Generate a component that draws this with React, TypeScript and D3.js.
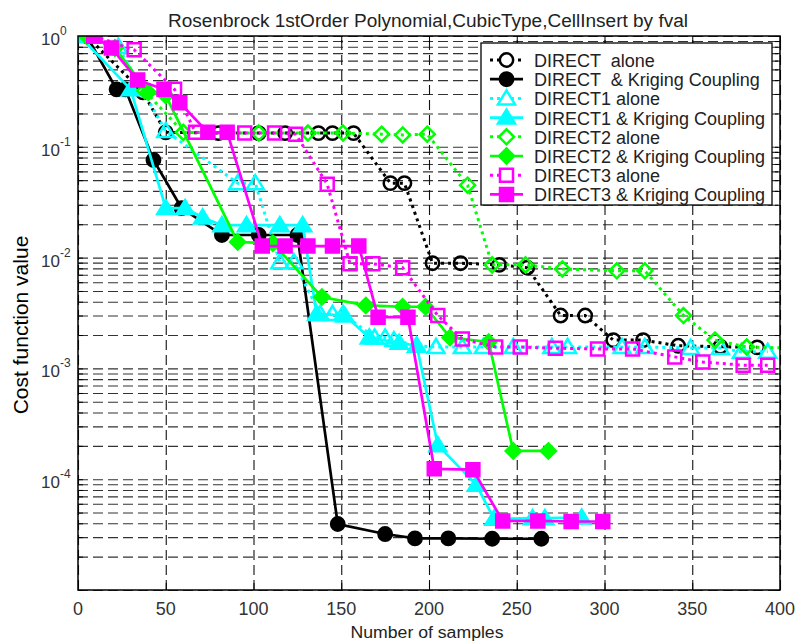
import React from "react";
import * as d3 from "d3";

// axis ticks
const xTicks = [0, 50, 100, 150, 200, 250, 300, 350, 400];
const yDecades = [0, -1, -2, -3, -4];

// DIRECT alone (dotted, open circles)
const directAloneX = [5, 37, 50, 80, 103, 118, 137, 145, 157, 178, 186, 202, 218, 240, 256, 275, 289, 305, 322, 342, 366, 387];
const directAloneY = [1, 0.31, 0.135, 0.133, 0.133, 0.133, 0.133, 0.133, 0.133, 0.047, 0.047, 0.0089, 0.0089, 0.0086, 0.0081, 0.003, 0.003, 0.0018, 0.0018, 0.0016, 0.00157, 0.00155];

// DIRECT & Kriging Coupling
const directKrigX = [5, 22, 27, 43, 59, 82, 103, 125, 148, 175, 192, 211, 236, 264];
const directKrigY = [1, 0.33, 0.33, 0.076, 0.028, 0.016, 0.016, 0.016, 3.94e-5, 3.2e-5, 2.92e-5, 2.92e-5, 2.9e-5, 2.9e-5];

// DIRECT1 alone
const direct1AloneX = [1, 23, 50, 91, 101, 115, 123, 138, 145, 151, 169, 175, 180, 193, 204, 219, 231, 248, 270, 279, 310, 323, 349, 366, 378, 393];
const direct1AloneY = [1, 0.8, 0.139, 0.047, 0.047, 0.0091, 0.0091, 0.0031, 0.0031, 0.0031, 0.0019, 0.0019, 0.0018, 0.0016, 0.00156, 0.00156, 0.00156, 0.00156, 0.00156, 0.00156, 0.00156, 0.00156, 0.00153, 0.00153, 0.00141, 0.00141];

// DIRECT1 & Kriging Coupling
const direct1KrigX = [1, 30, 50, 61, 71, 82, 96, 115, 128, 136, 152, 166, 183, 193, 205, 227, 237, 259, 266, 287];
const direct1KrigY = [1, 0.33, 0.028, 0.028, 0.023, 0.0196, 0.0196, 0.0196, 0.0196, 0.0031, 0.003, 0.0019, 0.0017, 0.0016, 2.03e-4, 8.9e-5, 4.4e-5, 4.45e-5, 4.45e-5, 4.5e-5];

// DIRECT2 alone
const direct2AloneX = [5, 21, 38, 60, 103, 131, 151, 173, 185, 199, 222, 236, 255, 276, 307, 323, 345, 363, 381, 410];
const direct2AloneY = [1, 0.78, 0.32, 0.135, 0.133, 0.133, 0.133, 0.13, 0.128, 0.13, 0.045, 0.0086, 0.0086, 0.0079, 0.0076, 0.0076, 0.003, 0.0018, 0.00156, 0.00152];

// DIRECT2 & Kriging Coupling
const direct2KrigX = [5, 21, 40, 50, 91, 111, 139, 164, 185, 198, 212, 234, 248, 268];
const direct2KrigY = [1, 0.78, 0.31, 0.29, 0.0138, 0.0135, 0.0044, 0.0037, 0.0036, 0.0036, 0.0019, 0.00173, 1.8e-4, 1.8e-4];

// DIRECT3 alone
const direct3AloneX = [9, 32, 55, 67, 95, 112, 124, 142, 155, 168, 185, 205, 219, 238, 252, 272, 296, 316, 340, 356, 379, 393];
const direct3AloneY = [1, 0.75, 0.33, 0.135, 0.133, 0.133, 0.13, 0.046, 0.0088, 0.0088, 0.0081, 0.003, 0.00184, 0.00156, 0.00156, 0.00152, 0.0015, 0.0015, 0.00127, 0.00114, 0.00107, 0.00107];

// DIRECT3 & Kriging Coupling
const direct3KrigX = [9, 19, 34, 49, 58, 74, 85, 105, 118, 131, 145, 160, 171, 188, 203, 225, 242, 262, 281, 299];
const direct3KrigY = [1, 0.78, 0.4, 0.33, 0.25, 0.135, 0.135, 0.0127, 0.0127, 0.0127, 0.0127, 0.0127, 0.0029, 0.0029, 1.24e-4, 1.22e-4, 4.2e-5, 4.2e-5, 4.15e-5, 4.15e-5];

const seriesNames = [
  "DIRECT  alone",
  "DIRECT  & Kriging Coupling",
  "DIRECT1 alone",
  "DIRECT1 & Kriging Coupling",
  "DIRECT2 alone",
  "DIRECT2 & Kriging Coupling",
  "DIRECT3 alone",
  "DIRECT3 & Kriging Coupling",
];

const titleText = "Rosenbrock 1stOrder Polynomial,CubicType,CellInsert by fval";

const FONT = "'Liberation Sans', Arial, sans-serif";

const markerPath = (kind: string) => {
  if (kind === "circle") return d3.symbol(d3.symbolCircle, 140)();
  if (kind === "triangle") return "M0,-8L8.5,6L-8.5,6Z";
  if (kind === "diamond") return "M0,-7.5L7.5,0L0,7.5L-7.5,0Z";
  return "M-6.5,-6.5L6.5,-6.5L6.5,6.5L-6.5,6.5Z";
};

export default function App() {
  const svgRef = React.useRef<SVGSVGElement>(null);
  const width = 798;
  const height = 643;
  const margin = { left: 78, right: 18, top: 36, bottom: 53 };

  React.useEffect(() => {
    const series = [
      { xs: directAloneX, ys: directAloneY, color: "#000000", dotted: true, marker: "circle", filled: false },
      { xs: directKrigX, ys: directKrigY, color: "#000000", dotted: false, marker: "circle", filled: true },
      { xs: direct1AloneX, ys: direct1AloneY, color: "#00ffff", dotted: true, marker: "triangle", filled: false },
      { xs: direct1KrigX, ys: direct1KrigY, color: "#00ffff", dotted: false, marker: "triangle", filled: true },
      { xs: direct2AloneX, ys: direct2AloneY, color: "#00ff00", dotted: true, marker: "diamond", filled: false },
      { xs: direct2KrigX, ys: direct2KrigY, color: "#00ff00", dotted: false, marker: "diamond", filled: true },
      { xs: direct3AloneX, ys: direct3AloneY, color: "#ff00ff", dotted: true, marker: "square", filled: false },
      { xs: direct3KrigX, ys: direct3KrigY, color: "#ff00ff", dotted: false, marker: "square", filled: true },
    ];

    const x0 = margin.left;
    const x1 = width - margin.right;
    const yTop = margin.top;
    const yBot = height - margin.bottom;

    const x = d3.scaleLinear().domain([0, 400]).range([x0, x1]);
    const y = d3.scaleLog().domain([1e-5, 1]).range([yBot, yTop]);

    const svg = d3.select(svgRef.current);
    svg.selectAll("*").remove();

    svg.append("rect").attr("width", width).attr("height", height).attr("fill", "#fff");

    svg.append("defs").append("clipPath").attr("id", "plotClip")
      .append("rect").attr("x", x0).attr("y", yTop).attr("width", x1 - x0).attr("height", yBot - yTop);

    // grid
    const yGrid = svg.append("g").attr("transform", `translate(${x0},0)`)
      .call(d3.axisLeft(y).tickValues(y.ticks()).tickSize(-(x1 - x0)).tickFormat(() => ""));
    yGrid.select(".domain").remove();
    yGrid.selectAll("line").attr("stroke", "#333").attr("stroke-width", 1.1).attr("stroke-dasharray", "10,5");

    const xGrid = svg.append("g").attr("transform", `translate(0,${yBot})`)
      .call(d3.axisBottom(x).tickValues(xTicks).tickSize(-(yBot - yTop)).tickFormat(() => ""));
    xGrid.select(".domain").remove();
    xGrid.selectAll("line").attr("stroke", "#111").attr("stroke-width", 1.1).attr("stroke-dasharray", "10,5");

    // inward ticks on all four sides
    const tickAxes = [
      { ax: d3.axisLeft(y).tickValues(y.ticks()).tickSize(-5), t: `translate(${x0},0)` },
      { ax: d3.axisRight(y).tickValues(y.ticks()).tickSize(-5), t: `translate(${x1},0)` },
      { ax: d3.axisBottom(x).tickValues(xTicks).tickSize(-7), t: `translate(0,${yBot})` },
      { ax: d3.axisTop(x).tickValues(xTicks).tickSize(-7), t: `translate(0,${yTop})` },
    ];
    tickAxes.forEach(({ ax, t }) => {
      const g = svg.append("g").attr("transform", t).call(ax.tickFormat(() => ""));
      g.select(".domain").remove();
      g.selectAll("line").attr("stroke", "#000").attr("stroke-width", 1);
    });

    // series
    const line = d3.line<[number, number]>().x((d) => x(d[0])).y((d) => y(d[1]));
    const plot = svg.append("g").attr("clip-path", "url(#plotClip)");
    series.forEach((s) => {
      const pts = s.xs.map((v, i) => [v, s.ys[i]] as [number, number]);
      plot.append("path")
        .attr("d", line(pts))
        .attr("fill", "none")
        .attr("stroke", s.color)
        .attr("stroke-width", s.dotted ? 3 : 2.7)
        .attr("stroke-dasharray", s.dotted ? "3,4" : null);
      plot.selectAll(null)
        .data(pts)
        .enter()
        .append("path")
        .attr("transform", (d) => `translate(${x(d[0])},${y(d[1])})`)
        .attr("d", markerPath(s.marker))
        .attr("fill", s.filled ? s.color : "none")
        .attr("stroke", s.color)
        .attr("stroke-width", 2.5);
    });

    // frame
    svg.append("rect")
      .attr("x", x0).attr("y", yTop).attr("width", x1 - x0).attr("height", yBot - yTop)
      .attr("fill", "none").attr("stroke", "#000").attr("stroke-width", 1.5);

    // tick labels
    xTicks.forEach((v) => {
      svg.append("text")
        .attr("x", x(v)).attr("y", yBot + 25)
        .attr("text-anchor", "middle")
        .attr("font-family", FONT).attr("font-size", 18).attr("fill", "#333")
        .text(v);
    });
    yDecades.forEach((p) => {
      const t = svg.append("text")
        .attr("x", 41).attr("y", y(Math.pow(10, p)) + 9)
        .attr("font-family", FONT).attr("font-size", 17).attr("fill", "#333");
      t.append("tspan").text("10");
      t.append("tspan").attr("dy", -10).attr("font-size", 12).text(p === 0 ? "0" : `-${-p}`);
    });

    // axis titles
    svg.append("text")
      .attr("x", (x0 + x1) / 2 - 2).attr("y", height - 5)
      .attr("text-anchor", "middle")
      .attr("font-family", FONT).attr("font-size", 16).attr("fill", "#222")
      .attr("textLength", 153).attr("lengthAdjust", "spacingAndGlyphs")
      .text("Number of samples");
    svg.append("text")
      .attr("transform", `translate(28,${(yTop + yBot) / 2 + 12}) rotate(-90)`)
      .attr("text-anchor", "middle")
      .attr("font-family", FONT).attr("font-size", 21).attr("fill", "#000")
      .text("Cost function value");
    svg.append("text")
      .attr("x", (x0 + x1) / 2 - 1).attr("y", 27)
      .attr("text-anchor", "middle")
      .attr("font-family", FONT).attr("font-size", 18).attr("fill", "#222")
      .attr("textLength", 520).attr("lengthAdjust", "spacingAndGlyphs")
      .text(titleText);

    // legend
    const lg = svg.append("g");
    lg.append("rect")
      .attr("x", 481).attr("y", 43).attr("width", 291).attr("height", 162)
      .attr("fill", "#fff").attr("stroke", "#000").attr("stroke-width", 1.3);
    series.forEach((s, i) => {
      const cy = 60 + i * 19.2;
      lg.append("line")
        .attr("x1", 490).attr("x2", 523).attr("y1", cy).attr("y2", cy)
        .attr("stroke", s.color).attr("stroke-width", s.dotted ? 3 : 2.7)
        .attr("stroke-dasharray", s.dotted ? "3,4" : null);
      lg.append("path")
        .attr("transform", `translate(506.5,${cy})`)
        .attr("d", markerPath(s.marker))
        .attr("fill", s.filled ? s.color : "#fff")
        .attr("stroke", s.color).attr("stroke-width", 2.5);
      lg.append("text")
        .attr("x", 534).attr("y", cy + 7)
        .attr("font-family", FONT).attr("font-size", 18).attr("fill", "#222")
        .attr("xml:space", "preserve")
        .style("white-space", "pre")
        .text(seriesNames[i]);
    });
  }, []);

  return (
    <svg
      ref={svgRef}
      width={width}
      height={height}
      style={{ position: "absolute", left: 0, top: 0 }}
    />
  );
}
